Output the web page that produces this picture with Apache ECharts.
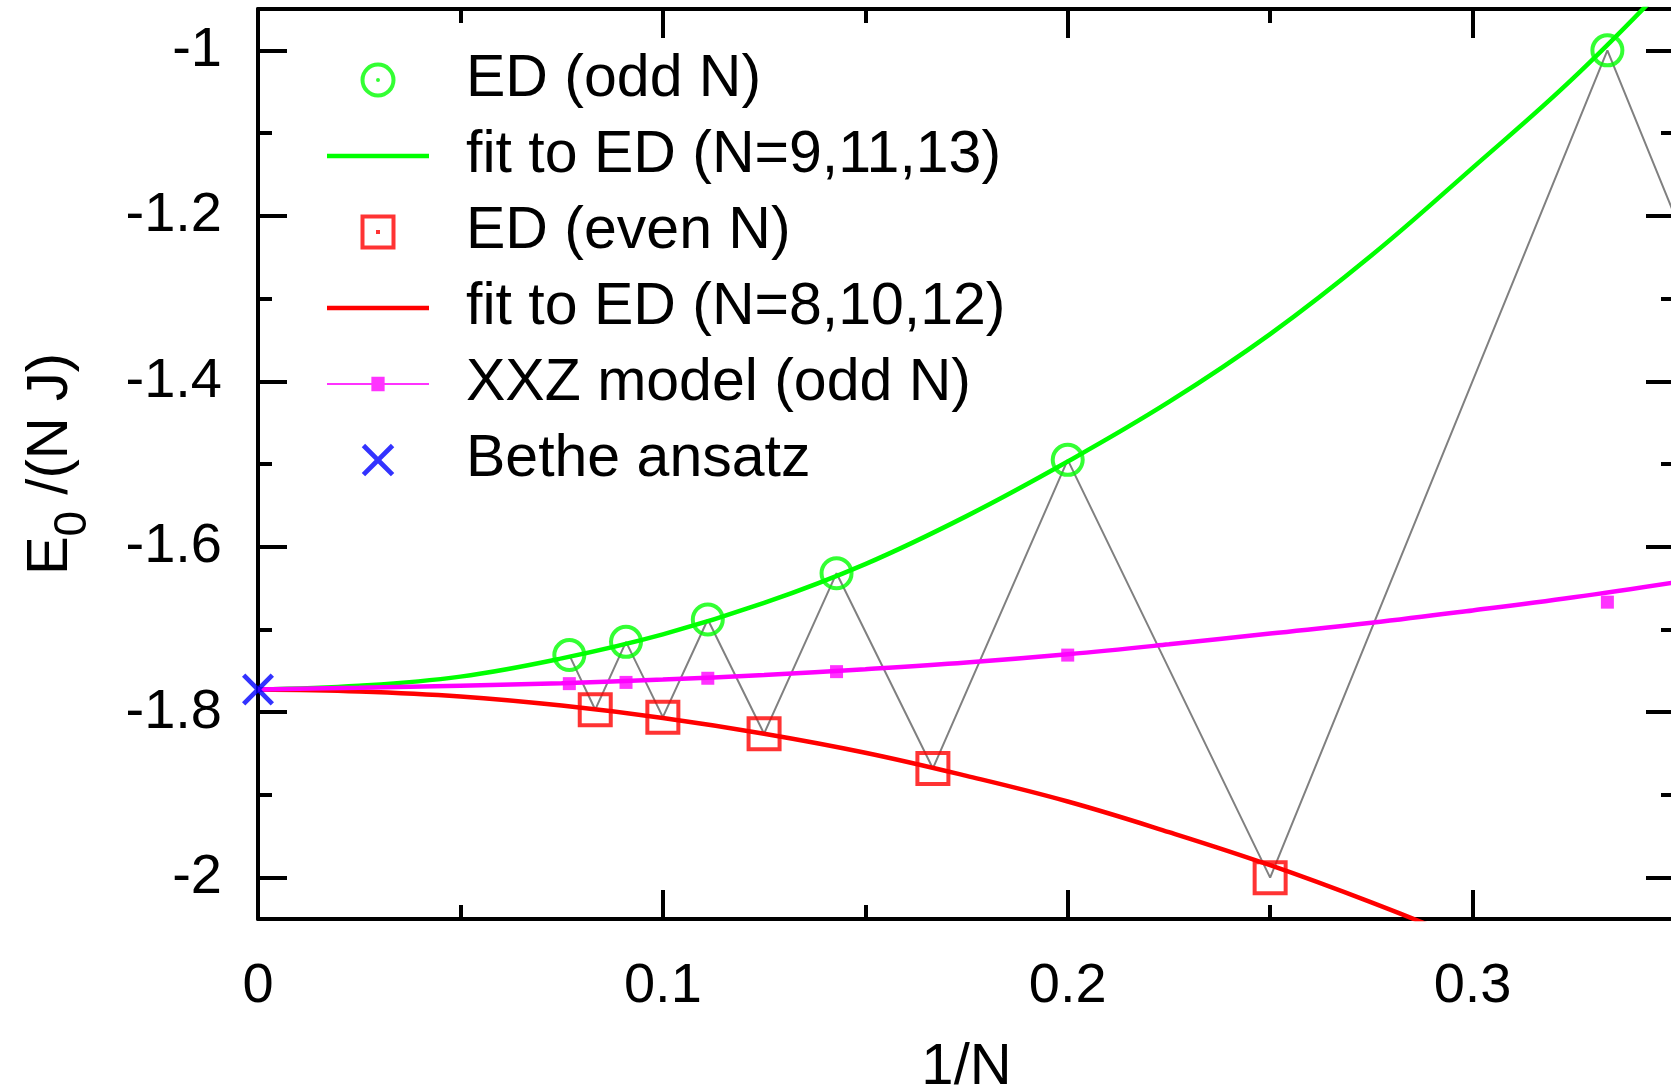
<!DOCTYPE html>
<html><head><meta charset="utf-8">
<script src="https://cdn.jsdelivr.net/npm/echarts@6/dist/echarts.min.js"></script>
<style>html,body{margin:0;padding:0;background:#fff}#c{width:1671px;height:1090px}</style>
</head><body><div id="c"></div>
<script>
// ---------- data ----------
// ED, odd N (N = 3,5,7,9,11,13), x = 1/N
const edOddX = [0.3333, 0.2, 0.1429, 0.1111, 0.0909, 0.0769];
const edOddY = [-1.0, -1.495, -1.632, -1.688, -1.715, -1.731];
// ED, even N (N = 2,4,6,8,10,12), x = 1/N  (N=2 lies outside the view)
const edEvenX = [0.5, 0.25, 0.1667, 0.125, 0.1, 0.0833];
const edEvenY = [-3.0, -2.0, -1.868, -1.826, -1.806, -1.797];
// XXZ model, odd N
const xxzX = [0.3333, 0.2, 0.1429, 0.1111, 0.0909, 0.0769];
const xxzY = [-1.667, -1.731, -1.751, -1.759, -1.764, -1.7655];
// Bethe ansatz
const betheX = [0];
const betheY = [-1.7726];
// fitted curves, sampled along 1/N
const fitX = [0, 0.025, 0.05, 0.075, 0.1, 0.125, 0.15, 0.175, 0.2, 0.225, 0.25, 0.275, 0.3, 0.325, 0.35];
const fitOddY = [-1.7726, -1.768, -1.757, -1.735, -1.706, -1.668, -1.621, -1.563, -1.497, -1.425, -1.343, -1.248, -1.142, -1.033, -0.91];
const fitEvenY = [-1.7726, -1.775, -1.781, -1.792, -1.807, -1.826, -1.849, -1.877, -1.908, -1.945, -1.985, -2.030, -2.079, -2.132, -2.19];
const fitXxzY = [-1.7726, -1.7705, -1.768, -1.765, -1.7605, -1.755, -1.748, -1.740, -1.730, -1.718, -1.705, -1.692, -1.677, -1.661, -1.643];
// axis ticks
const xMajor = [0, 0.1, 0.2, 0.3];
const xMinor = [0.05, 0.15, 0.25];
const yMajor = [-2, -1.8, -1.6, -1.4, -1.2, -1];
const yMinor = [-1.9, -1.7, -1.5, -1.3, -1.1];

// ---------- build ----------
const pairs = (xs, ys) => xs.map((x, i) => [x, ys[i]]);
const zig = pairs(edOddX, edOddY).concat(pairs(edEvenX, edEvenY)).sort((a, b) => b[0] - a[0]);

const FONT = 'Liberation Sans';
const fmt = v => String(Math.round(v * 10) / 10);
const black = {color: '#000', width: 4};

function xa(pos, ticks, len, line, label) {
  return {
    type: 'value', gridIndex: 0, position: pos, min: 0, max: 0.35,
    axisLine: {show: line, onZero: false, lineStyle: black},
    axisTick: {show: true, inside: true, length: len, customValues: ticks, lineStyle: black},
    axisLabel: label ? {show: true, customValues: xMajor, margin: 40, fontSize: 56, fontFamily: FONT, color: '#000', formatter: fmt} : {show: false},
    splitLine: {show: false},
    name: label ? '1/N' : '', nameLocation: 'middle', nameGap: 120,
    nameTextStyle: {fontSize: 58, fontFamily: FONT, color: '#000'}
  };
}
function ya(pos, ticks, len, line, label) {
  return {
    type: 'value', gridIndex: 0, position: pos, min: -2.05, max: -0.95,
    axisLine: {show: line, onZero: false, lineStyle: black},
    axisTick: {show: true, inside: true, length: len, customValues: ticks, lineStyle: black},
    axisLabel: label ? {show: true, customValues: yMajor, margin: 36, fontSize: 56, fontFamily: FONT, color: '#000', formatter: fmt} : {show: false},
    splitLine: {show: false},
    name: label ? '{e|E}{s|0}{e| /(N J)}' : '', nameLocation: 'middle', nameGap: 176,
    nameTextStyle: {
      fontFamily: FONT, color: '#000',
      rich: {
        e: {fontSize: 58, fontFamily: FONT, color: '#000', lineHeight: 60, verticalAlign: 'top'},
        s: {fontSize: 46, fontFamily: FONT, color: '#000', lineHeight: 46, padding: [28, 0, 0, 0], verticalAlign: 'top'}
      }
    }
  };
}

const ringCircle = 'path://M17.5,0 A17.5,17.5 0 1 1 17.5,35 A17.5,17.5 0 1 1 17.5,0 Z M17.5,4 A13.5,13.5 0 1 0 17.5,31 A13.5,13.5 0 1 0 17.5,4 Z M17.5,15.5 A2,2 0 1 1 17.5,19.5 A2,2 0 1 1 17.5,15.5 Z';
const ringSquare = 'path://M0,0 H35 V35 H0 Z M4,4 V31 H31 V4 Z M15.5,15.5 H19.5 V19.5 H15.5 Z';
const bar = 'path://M0,0 H100 V4.4 H0 Z';
const barSquare = 'path://M0,5.5 H43.5 V-0.5 H56.5 V5.5 H100 V7.5 H56.5 V13.5 H43.5 V7.5 H0 Z';
const cross = 'path://M2.7,0 L13,10.3 L23.3,0 L26,2.7 L15.7,13 L26,23.3 L23.3,26 L13,15.7 L2.7,26 L0,23.3 L10.3,13 L0,2.7 Z';
const crossLegend = 'path://M-1,-1 L-1,-1 M27,27 L27,27 M2.7,0 L13,10.3 L23.3,0 L26,2.7 L15.7,13 L26,23.3 L23.3,26 L13,15.7 L2.7,26 L0,23.3 L10.3,13 L0,2.7 Z';

const GREEN = '#00ff00', RED = '#ff0000', MAG = '#ff00ff', BLUE = '#0000ff', GREY = '#808080';

const option = {
  animation: false,
  backgroundColor: '#fff',
  grid: {left: 258, top: 9, right: -4, bottom: 171, containLabel: false, outerBoundsMode: 'none'},
  xAxis: [xa('bottom', xMajor, 29, true, true), xa('bottom', xMinor, 14, false, false),
          xa('top', xMajor, 29, true, false), xa('top', xMinor, 14, false, false)],
  yAxis: [ya('left', yMajor, 29, true, true), ya('left', yMinor, 14, false, false),
          ya('right', yMajor, 29, true, false), ya('right', yMinor, 14, false, false)],
  legend: {
    orient: 'vertical', left: 327, top: 50, padding: 0, itemGap: 16,
    itemWidth: 102, itemHeight: 35, selectedMode: false,
    textStyle: {fontSize: 59, fontFamily: FONT, color: '#000', lineHeight: 60, padding: [0, 0, 0, 32]},
    data: [
      {name: 'ED (odd N)', icon: ringCircle, itemStyle: {color: GREEN, borderWidth: 0}},
      {name: 'fit to ED (N=9,11,13)', icon: bar, itemStyle: {color: GREEN, borderWidth: 0}},
      {name: 'ED (even N)', icon: ringSquare, itemStyle: {color: RED, borderWidth: 0}},
      {name: 'fit to ED (N=8,10,12)', icon: bar, itemStyle: {color: RED, borderWidth: 0}},
      {name: 'XXZ model (odd N)', icon: barSquare, itemStyle: {color: MAG, borderWidth: 0}},
      {name: 'Bethe ansatz', icon: crossLegend, itemStyle: {color: BLUE, borderWidth: 0}}
    ]
  },
  series: [
    {type: 'line', name: 'zigzag', data: zig, symbol: 'none', z: 3,
     lineStyle: {color: GREY, width: 2}, itemStyle: {color: GREY}},
    {type: 'line', name: 'fit to ED (N=9,11,13)', data: pairs(fitX, fitOddY), smooth: 0.4, symbol: 'none', z: 4,
     lineStyle: {color: GREEN, width: 4.5}, itemStyle: {color: GREEN}},
    {type: 'line', name: 'fit to ED (N=8,10,12)', data: pairs(fitX, fitEvenY), smooth: 0.4, symbol: 'none', z: 4,
     lineStyle: {color: RED, width: 4.5}, itemStyle: {color: RED}},
    {type: 'line', name: 'XXZ fit', data: pairs(fitX, fitXxzY), smooth: 0.4, symbol: 'none', z: 4,
     lineStyle: {color: MAG, width: 4.5}, itemStyle: {color: MAG}},
    {type: 'scatter', name: 'ED (odd N)', data: pairs(edOddX, edOddY), symbol: 'circle', symbolSize: 30, z: 5,
     itemStyle: {color: 'rgba(0,0,0,0)', borderColor: GREEN, borderWidth: 4}},
    {type: 'scatter', name: 'ED (even N)', data: pairs(edEvenX, edEvenY), symbol: 'rect', symbolSize: 31, z: 5,
     itemStyle: {color: 'rgba(0,0,0,0)', borderColor: RED, borderWidth: 4}},
    {type: 'scatter', name: 'XXZ model (odd N)', data: pairs(xxzX, xxzY), symbol: 'rect', symbolSize: 13, z: 6,
     itemStyle: {color: MAG}},
    {type: 'scatter', name: 'Bethe ansatz', data: pairs(betheX, betheY), symbol: cross, symbolSize: 32, z: 7, clip: false,
     itemStyle: {color: BLUE}}
  ]
};
const chart = echarts.init(document.getElementById('c'), null, {renderer: 'canvas'});
chart.setOption(option);
</script></body></html>
